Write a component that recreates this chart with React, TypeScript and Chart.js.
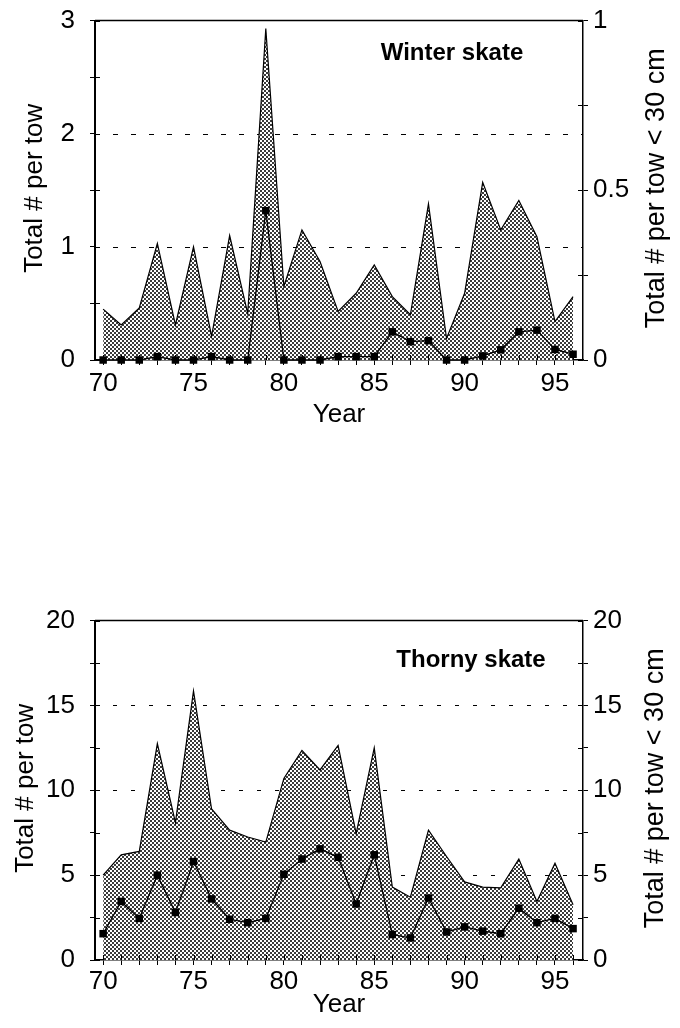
import React, { useEffect, useRef } from 'react';
import { Chart, registerables } from 'chart.js';

Chart.register(...registerables);

const years = [70, 71, 72, 73, 74, 75, 76, 77, 78, 79, 80, 81, 82, 83, 84, 85, 86, 87, 88, 89, 90, 91, 92, 93, 94, 95, 96];

const winterTotal = [0.45, 0.31, 0.46, 1.03, 0.31, 1.0, 0.21, 1.1, 0.41, 2.93, 0.65, 1.15, 0.87, 0.43, 0.59, 0.84, 0.56, 0.4, 1.38, 0.19, 0.59, 1.57, 1.15, 1.41, 1.09, 0.34, 0.56];
const winterSmall = [0, 0, 0, 0.01, 0, 0, 0.01, 0, 0, 0.44, 0, 0, 0, 0.01, 0.01, 0.01, 0.083, 0.054, 0.057, 0, 0, 0.012, 0.03, 0.083, 0.088, 0.031, 0.017];

const thornyTotal = [5.0, 6.2, 6.4, 12.75, 8.1, 15.85, 8.9, 7.65, 7.25, 6.95, 10.7, 12.35, 11.2, 12.65, 7.45, 12.5, 4.3, 3.7, 7.65, 6.1, 4.6, 4.3, 4.25, 5.95, 3.45, 5.7, 3.25];
const thornySmall = [1.55, 3.45, 2.45, 5.0, 2.8, 5.8, 3.6, 2.4, 2.2, 2.45, 5.05, 5.95, 6.55, 6.05, 3.3, 6.2, 1.5, 1.3, 3.65, 1.65, 1.95, 1.7, 1.55, 3.05, 2.2, 2.45, 1.85];

const winterLeftTicks = [0, 0.5, 1, 1.5, 2, 2.5, 3];
const winterLeftLabels = [0, 1, 2, 3];
const winterRightTicks = [0, 0.25, 0.5, 0.75, 1];
const winterRightLabels = [0, 0.5, 1];
const winterGrid = [1, 2];

const thornyTicks = [0, 2.5, 5, 7.5, 10, 12.5, 15, 17.5, 20];
const thornyLabels = [0, 5, 10, 15, 20];
const thornyGrid = [5, 10, 15];

const yearLabels = [70, 75, 80, 85, 90, 95];

const FONT = "'Liberation Sans', Arial, Helvetica, sans-serif";
const SHIFT = 10;

function makePattern(ctx: CanvasRenderingContext2D) {
  const c = document.createElement('canvas');
  c.width = 4;
  c.height = 4;
  const g = c.getContext('2d')!;
  g.fillStyle = '#ffffff';
  g.fillRect(0, 0, 4, 4);
  g.fillStyle = '#3a3a3a';
  g.fillRect(0, 0, 2, 2);
  g.fillRect(2, 2, 2, 2);
  return ctx.createPattern(c, 'repeat');
}

type PanelProps = {
  top: number;
  height: number;
  xHeight: number;
  title: string;
  titleX: number;
  titleY: number;
  total: number[];
  small: number[];
  leftMax: number;
  rightMax: number;
  leftTicks: number[];
  leftLabels: number[];
  rightTicks: number[];
  rightLabels: number[];
  gridValues: number[];
  dash: number[];
  leftTitleX: number;
  rightTitleX: number;
  yearY: number;
  xPad: number;
};

function Panel(p: PanelProps) {
  const ref = useRef<HTMLCanvasElement | null>(null);

  useEffect(() => {
    const canvas = ref.current!;
    const ctx = canvas.getContext('2d')!;
    const pattern = makePattern(ctx);

    const decor = {
      id: 'decor',
      beforeDatasetsDraw(chart: any) {
        const { ctx: c, chartArea: a, scales } = chart;
        const y = scales.y;
        c.save();
        c.strokeStyle = '#000';
        c.lineWidth = 1;
        c.setLineDash(p.dash);
        for (const v of p.gridValues) {
          const py = Math.round(y.getPixelForValue(v)) + 0.5;
          c.beginPath();
          c.moveTo(a.left, py);
          c.lineTo(a.right, py);
          c.stroke();
        }
        c.restore();
      },
      afterDraw(chart: any) {
        const { ctx: c, chartArea: a, scales } = chart;
        c.save();
        c.strokeStyle = '#000';
        c.lineWidth = 1.5;
        c.beginPath();
        c.moveTo(a.left, a.top);
        c.lineTo(a.right, a.top);
        c.stroke();
        c.lineWidth = 1;
        for (const t of scales.x.ticks) {
          const px = Math.round(scales.x.getPixelForValue(t.value)) + 0.5;
          c.beginPath();
          c.moveTo(px, a.bottom);
          c.lineTo(px, a.bottom - 5);
          c.stroke();
        }
        for (const t of scales.y.ticks) {
          const py = Math.round(scales.y.getPixelForValue(t.value)) + 0.5;
          c.beginPath();
          c.moveTo(a.left, py);
          c.lineTo(a.left + 5, py);
          c.stroke();
        }
        for (const t of scales.y1.ticks) {
          const py = Math.round(scales.y1.getPixelForValue(t.value)) + 0.5;
          c.beginPath();
          c.moveTo(a.right, py);
          c.lineTo(a.right - 5, py);
          c.stroke();
        }
        c.fillStyle = '#000';
        c.font = `26px ${FONT}`;
        const cy = (a.top + a.bottom) / 2 - 2;
        c.textAlign = 'center';
        c.textBaseline = 'alphabetic';
        c.save();
        c.translate(p.leftTitleX, cy);
        c.rotate(-Math.PI / 2);
        c.fillText('Total # per tow', 0, 0);
        c.restore();
        c.save();
        c.font = `27px ${FONT}`;
        c.translate(p.rightTitleX, cy);
        c.rotate(-Math.PI / 2);
        c.fillText('Total # per tow < 30 cm', 0, 0);
        c.restore();
        c.fillText('Year', (a.left + a.right) / 2, p.yearY + SHIFT);
        c.font = `bold 24px ${FONT}`;
        c.fillText(p.title, p.titleX, p.titleY + SHIFT);
        c.restore();
      },
    };

    const tickFont = { family: FONT, size: 26 };

    const chart = new Chart(canvas, {
      type: 'line',
      data: {
        datasets: [
          {
            label: 'small',
            data: years.map((x, i) => ({ x, y: p.small[i] })),
            yAxisID: 'y1',
            borderColor: '#000',
            borderWidth: 1.3,
            backgroundColor: '#000',
            pointStyle: 'rect',
            pointRadius: 5.3,
            pointBorderWidth: 0,
            pointBackgroundColor: '#000',
            fill: false,
            clip: false,
            tension: 0,
          },
          {
            label: 'total',
            data: years.map((x, i) => ({ x, y: p.total[i] })),
            yAxisID: 'y',
            borderColor: '#000',
            borderWidth: 1.2,
            backgroundColor: pattern as any,
            pointRadius: 0,
            fill: 'origin',
            tension: 0,
          },
        ],
      },
      options: {
        responsive: false,
        animation: false,
        events: [],
        layout: { padding: { top: 10, left: 0, right: 0, bottom: 0 } },
        plugins: {
          legend: { display: false },
          tooltip: { enabled: false },
          title: { display: false },
        },
        scales: {
          x: {
            type: 'linear',
            position: 'bottom',
            min: 69.55,
            max: 96.55,
            afterBuildTicks: (s: any) => {
              s.ticks = years.map((v) => ({ value: v }));
            },
            afterFit: (s: any) => {
              s.height = p.xHeight;
            },
            ticks: {
              color: '#000',
              font: tickFont,
              padding: p.xPad,
              maxRotation: 0,
              autoSkip: false,
              callback: (v: any) => (yearLabels.includes(Number(v)) ? String(v) : ''),
            },
            grid: { drawOnChartArea: false, drawTicks: true, tickLength: 5, color: '#000' },
            border: { display: true, color: '#000', width: 1.5 },
          },
          y: {
            type: 'linear',
            position: 'left',
            min: 0,
            max: p.leftMax,
            afterBuildTicks: (s: any) => {
              s.ticks = p.leftTicks.map((v) => ({ value: v }));
            },
            afterFit: (s: any) => {
              s.width = 95;
            },
            ticks: {
              color: '#000',
              font: tickFont,
              padding: 15,
              autoSkip: false,
              callback: (v: any) => (p.leftLabels.includes(Number(v)) ? String(v) : ''),
            },
            grid: { drawOnChartArea: false, drawTicks: true, tickLength: 5, color: '#000' },
            border: { display: true, color: '#000', width: 2 },
          },
          y1: {
            type: 'linear',
            position: 'right',
            min: 0,
            max: p.rightMax,
            afterBuildTicks: (s: any) => {
              s.ticks = p.rightTicks.map((v) => ({ value: v }));
            },
            afterFit: (s: any) => {
              s.width = 97;
            },
            ticks: {
              color: '#000',
              font: tickFont,
              padding: 5,
              autoSkip: false,
              callback: (v: any) => (p.rightLabels.includes(Number(v)) ? String(v) : ''),
            },
            grid: { drawOnChartArea: false, drawTicks: true, tickLength: 5, color: '#000' },
            border: { display: true, color: '#000', width: 1.5 },
          },
        },
      } as any,
      plugins: [decor],
    });

    return () => {
      chart.destroy();
    };
  }, []);

  const h = p.height + SHIFT;
  return (
    <canvas
      ref={ref}
      width={680}
      height={h}
      style={{ position: 'absolute', left: 0, top: p.top - SHIFT, width: 680, height: h }}
    />
  );
}

export default function App() {
  return (
    <div style={{ position: 'absolute', left: 0, top: 0, width: 680, height: 1028, background: '#fff', overflow: 'hidden' }}>
      <Panel
        top={0}
        height={440}
        xHeight={80}
        title="Winter skate"
        titleX={452}
        titleY={60}
        total={winterTotal}
        small={winterSmall}
        leftMax={3}
        rightMax={1}
        leftTicks={winterLeftTicks}
        leftLabels={winterLeftLabels}
        rightTicks={winterRightTicks}
        rightLabels={winterRightLabels}
        gridValues={winterGrid}
        dash={[5, 13]}
        leftTitleX={42}
        rightTitleX={664}
        yearY={422}
        xPad={3}
      />
      <Panel
        top={600}
        height={428}
        xHeight={68}
        title="Thorny skate"
        titleX={471}
        titleY={67}
        total={thornyTotal}
        small={thornySmall}
        leftMax={20}
        rightMax={20}
        leftTicks={thornyTicks}
        leftLabels={thornyLabels}
        rightTicks={thornyTicks}
        rightLabels={thornyLabels}
        gridValues={thornyGrid}
        dash={[4, 14]}
        leftTitleX={33}
        rightTitleX={663}
        yearY={412}
        xPad={1}
      />
    </div>
  );
}
